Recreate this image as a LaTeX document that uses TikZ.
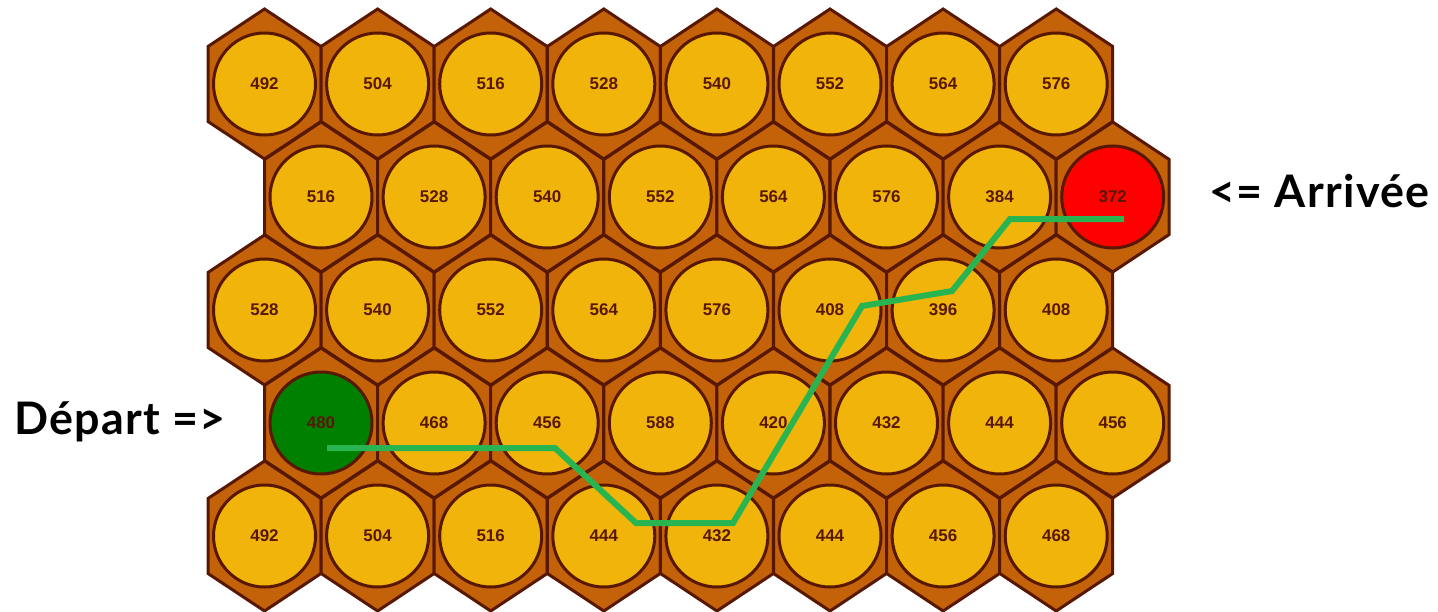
\documentclass[tikz,border=0pt]{standalone}
\usepackage{fontspec}
\newfontfamily\numfont{Liberation Sans}
\newfontfamily\labfont[LetterSpace=3]{Lato}
\definecolor{hexfill}{RGB}{196,98,10}
\definecolor{cellfill}{RGB}{240,180,10}
\definecolor{edgebrown}{RGB}{88,24,0}
\definecolor{routegreen}{RGB}{40,180,80}
\definecolor{startgreen}{RGB}{0,128,0}
\definecolor{goalred}{RGB}{255,0,0}
\tikzset{
  hexcell/.style={fill=hexfill, draw=edgebrown, line width=3bp, line join=miter},
  cell/.style={circle, draw=edgebrown, line width=3bp, fill=cellfill, minimum size=102bp, inner sep=0pt,
    font=\numfont\bfseries\fontsize{17}{17}\selectfont, text=edgebrown},
  startcell/.style={cell, fill=startgreen},
  goalcell/.style={cell, fill=goalred},
  route/.style={draw=routegreen, line width=6bp, line join=miter},
  lbl/.style={font=\labfont\bfseries\fontsize{45}{45}\selectfont, text=black, inner sep=0pt}
}
\newcommand\hexrow[3]{%
  \foreach \v/\s [count=\c from 0] in {#3} {
    \pgfmathsetmacro\cx{#2+113.1*\c}
    \pgfmathsetmacro\cy{84+113*#1}
    \draw[hexcell] (\cx,\cy-75) -- ++(56.5,37.5) -- ++(0,75) -- ++(-56.5,37.5) -- ++(-56.5,-37.5) -- ++(0,-75) -- cycle;
    \node[\s] (h-#1-\c) at (\cx,\cy) {\v};
  }}
\begin{document}
\begin{tikzpicture}[x=1bp,y=-1bp]
\useasboundingbox (0,0) rectangle (1438,612);
\hexrow{0}{264.5}{492/cell,504/cell,516/cell,528/cell,540/cell,552/cell,564/cell,576/cell}
\hexrow{1}{321}{516/cell,528/cell,540/cell,552/cell,564/cell,576/cell,384/cell,372/goalcell}
\hexrow{2}{264.5}{528/cell,540/cell,552/cell,564/cell,576/cell,408/cell,396/cell,408/cell}
\hexrow{3}{321}{480/startcell,468/cell,456/cell,588/cell,420/cell,432/cell,444/cell,456/cell}
\hexrow{4}{264.5}{492/cell,504/cell,516/cell,444/cell,432/cell,444/cell,456/cell,468/cell}
% route
\coordinate (p1) at (327,448);
\coordinate (p2) at (555,448);
\coordinate (p3) at (636,523);
\coordinate (p4) at (733,523);
\coordinate (p5) at (862,306);
\coordinate (p6) at (952,291);
\coordinate (p7) at (1010,219);
\coordinate (p8) at (1124,219);
\draw[route] (p1) -- (p2) -- (p3) -- (p4) -- (p5) -- (p6) -- (p7) -- (p8);
% labels
\node[lbl, anchor=base west] (depart) at (14,434) {Départ =>};
\node[lbl, anchor=base east] (arrivee) at (1430,208) {<= Arrivée};
\end{tikzpicture}
\end{document}
